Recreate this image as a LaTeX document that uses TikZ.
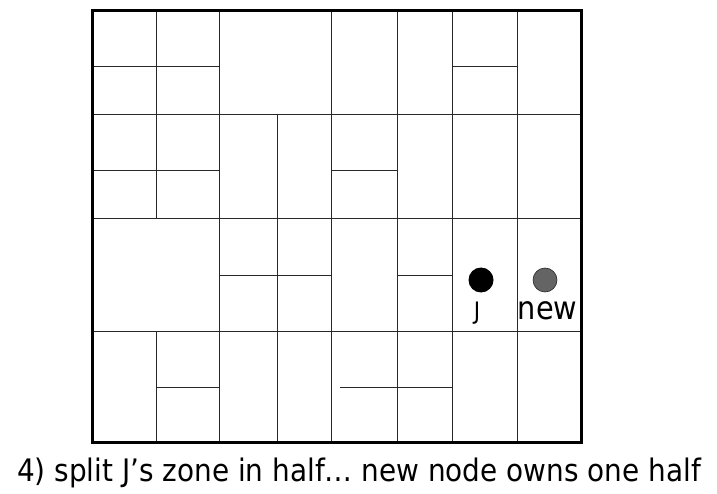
\documentclass[tikz,border=0pt]{standalone}
\usepackage{fontspec}
\setmainfont[FakeStretch=0.9]{DejaVu Sans}
\usetikzlibrary{positioning}
\definecolor{ZoneLine} {RGB}{ 40,  40,  40}
\definecolor{NewGray}  {RGB}{100, 100, 100}
\tikzset{
  % Outer border of the coordinate space
  spaceborder/.style={
    draw=black, line width=3pt
  },
  % Zone boundaries
  zoneline/.style={
    draw=ZoneLine, line width=1pt
  },
  % Existing peer J
  peer/.style={
    circle, fill=black, inner sep=0pt, minimum size=25pt
  },
  % Joining peer
  newpeer/.style={
    circle, fill=NewGray, draw=black!85, line width=0.6pt,
    inner sep=0pt, minimum size=24pt
  },
  % Labels under the peers
  peerlabel/.style={
    inner sep=0pt, anchor=base
  },
  % Caption line
  caption/.style={
    font=\fontsize{31}{36}\selectfont, inner sep=0pt, anchor=base
  }
}

\begin{document}
\begin{tikzpicture}[x=1pt, y=-1pt]
  \useasboundingbox (0,0) rectangle (717,494);

  % ── Zone boundaries running the whole way ────────────────────────────────
  \foreach \yy in {115,219,331}
    \draw[zoneline] (92,\yy) -- (581,\yy);
  \foreach \xx in {219,331,397,452,517}
    \draw[zoneline] (\xx,11) -- (\xx,442);

  % ── Split zones ──────────────────────────────────────────────────────────
  \draw[zoneline] (156,11) -- (156,219);
  \draw[zoneline] (156,331) -- (156,442);
  \draw[zoneline] (277,115) -- (277,442);
  \draw[zoneline] (92,67) -- (219,67);
  \draw[zoneline] (452,67) -- (517,67);
  \draw[zoneline] (92,171) -- (219,171);
  \draw[zoneline] (331,171) -- (397,171);
  \draw[zoneline] (219,275) -- (331,275);
  \draw[zoneline] (397,275) -- (452,275);
  \draw[zoneline] (156,387) -- (219,387);
  \draw[zoneline] (340,387) -- (452,387);

  % ── Border ───────────────────────────────────────────────────────────────
  \draw[spaceborder] (92.5,11) rectangle (581,442);

  % ── Peers ────────────────────────────────────────────────────────────────
  \node[peer] (j) at (481,280) {};
  \node[newpeer] (newnode) at (545,280) {};
  \node[peerlabel, font=\fontsize{24}{28}\selectfont] (jlabel) at (477,319) {J};
  \node[peerlabel, font=\fontsize{32}{36}\selectfont] (newlabel) at (547.5,319) {new};

  % ── Caption ──────────────────────────────────────────────────────────────
  \node[caption] (caption) at (359,481)
    {4) split J’s zone in half… new node owns one half};

\end{tikzpicture}
\end{document}
